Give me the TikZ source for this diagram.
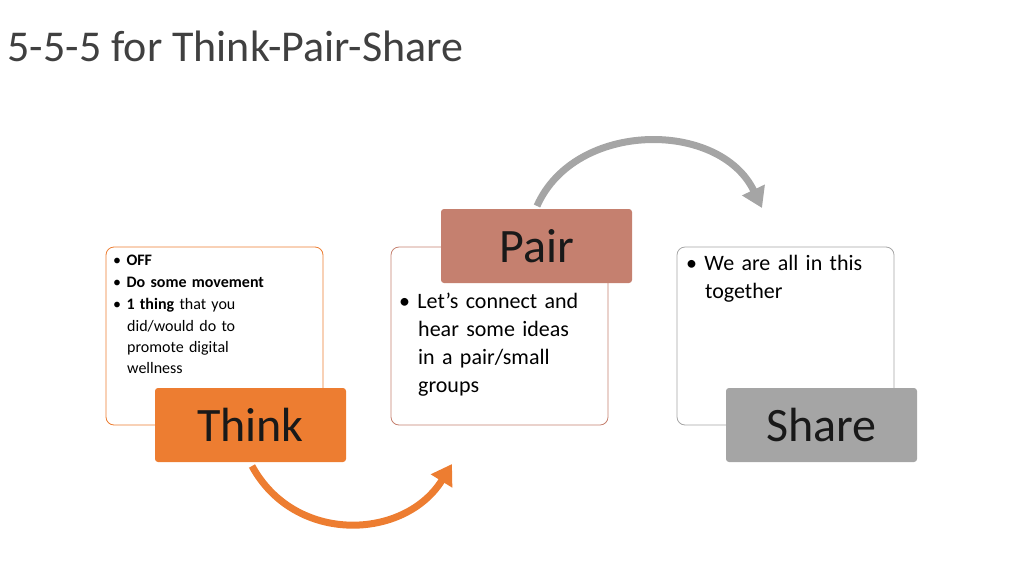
\documentclass[tikz,border=0pt]{standalone}
\usepackage{fontspec}
\setmainfont{Carlito}
\usetikzlibrary{arrows.meta}
\definecolor{thinkc}{HTML}{ED7D31}
\definecolor{pairc}{HTML}{C5806F}
\definecolor{sharec}{HTML}{A5A5A5}
\definecolor{titlec}{HTML}{404040}
\tikzset{
  panel/.style={draw, rounded corners=8pt, line width=0.8pt, fill=white},
  tag/.style={rounded corners=3pt, minimum width=191pt, minimum height=74pt, font=\fontsize{48}{50}\selectfont, text=black!90},
  cycle/.style={line width=7pt, -{Triangle[length=20pt,width=24pt]}}
}
\begin{document}
\begin{tikzpicture}[x=1pt, y=-1pt]
        \useasboundingbox (0,0) rectangle (1024,576);
        \node[anchor=west, text=titlec, font=\fontsize{44}{46}\selectfont] (title) at (4,46) {5-5-5 for Think-Pair-Share};

        \draw[panel, draw=thinkc] (106,247) rectangle (323,425);
        \draw[panel, draw=pairc] (391,247) rectangle (608,425);
        \draw[panel, draw=sharec] (677,247) rectangle (894,425);

        \node[anchor=north west, text width=200pt, font=\fontsize{16}{22}\selectfont, align=left, inner sep=0pt] (thinktext) at (113,255) {%
          \textbullet\ \textbf{OFF}\\
          \textbullet\ \textbf{Do some movement}\\
          \textbullet\ \textbf{1 thing} that you\\
          \hspace*{14pt}\parbox[t]{180pt}{\fontsize{16}{21}\selectfont did/would do to\\ promote digital\\ wellness}};
        \node[anchor=north west, text width=200pt, font=\fontsize{22}{28}\selectfont, align=left, inner sep=0pt] (pairtext) at (399,293) {%
          \textbullet\ Let’s connect and\\
          \hspace*{19pt}hear some ideas\\
          \hspace*{19pt}in a pair/small\\
          \hspace*{19pt}groups};
        \node[anchor=north west, text width=200pt, font=\fontsize{22}{28}\selectfont, align=left, inner sep=0pt] (sharetext) at (686,255) {%
          \textbullet\ We are all in this\\
          \hspace*{19pt}together};

        \node[tag, fill=thinkc] (think) at (250.5,425) {Think};
        \node[tag, fill=pairc] (pair) at (536.5,246) {Pair};
        \node[tag, fill=sharec] (share) at (821.5,425) {Share};

        \coordinate (a1) at (252,466);
        \coordinate (a2) at (452,464);
        \coordinate (b1) at (537,206);
        \coordinate (b2) at (762,208);
        \draw[cycle, thinkc] (a1) .. controls (295,545) and (405,540) .. (a2);
        \draw[cycle, sharec] (b1) .. controls (575,120) and (720,120) .. (b2);
\end{tikzpicture}
\end{document}
